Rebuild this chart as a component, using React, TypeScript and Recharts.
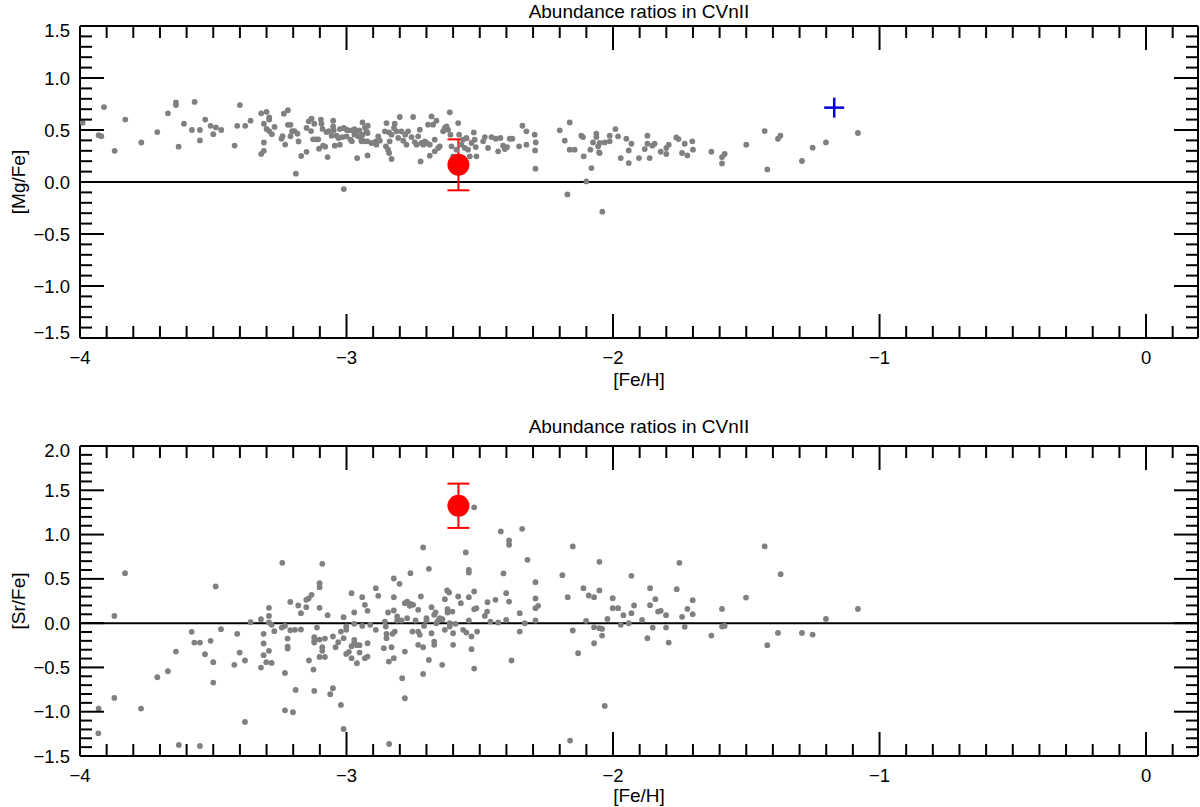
import React from 'react';
import { ScatterChart, Scatter, XAxis, YAxis, ReferenceLine, ErrorBar } from 'recharts';

const FONT = "'Liberation Sans', Arial, Helvetica, sans-serif";
const TITLE = 'Abundance ratios in CVnII';
const X_LABEL = '[Fe/H]';
const MG_LABEL = '[Mg/Fe]';
const SR_LABEL = '[Sr/Fe]';

const X_DOMAIN: [number, number] = [-4, 0.195];
const MG_DOMAIN: [number, number] = [-1.5, 1.5];
const SR_DOMAIN: [number, number] = [-1.5, 2.0];

// tick positions (minor every 0.1, labelled majors)
const X_TICKS = Array.from({ length: 42 }, (_, i) => (i - 40) / 10);
const MG_TICKS = Array.from({ length: 31 }, (_, i) => (i - 15) / 10);
const SR_TICKS = Array.from({ length: 36 }, (_, i) => (i - 15) / 10);
const X_MAJOR_LABELS: Record<string, string> = { '-4': '−4', '-3': '−3', '-2': '−2', '-1': '−1', '0': '0' };

// [Fe/H], [Mg/Fe] of comparison stars
const MG_STARS: [number, number][] = [
  [-3.99, 0.57], [-3.91, 0.72], [-3.93, 0.45], [-3.92, 0.44], [-3.87, 0.30], [-3.83, 0.60], [-3.77, 0.38],
  [-3.71, 0.48], [-3.67, 0.66], [-3.64, 0.765], [-3.64, 0.74], [-3.63, 0.34], [-3.61, 0.56], [-3.58, 0.50],
  [-3.57, 0.77], [-3.55, 0.50], [-3.55, 0.40], [-3.53, 0.60], [-3.51, 0.54], [-3.49, 0.525], [-3.50, 0.46],
  [-3.47, 0.50], [-3.42, 0.35], [-3.40, 0.74], [-3.41, 0.54], [-3.38, 0.54], [-3.36, 0.59], [-3.32, 0.66],
  [-3.30, 0.675], [-3.31, 0.56], [-3.29, 0.62], [-3.29, 0.60], [-3.32, 0.27], [-3.31, 0.30], [-3.31, 0.38],
  [-3.30, 0.51], [-3.29, 0.49], [-3.28, 0.46], [-3.27, 0.53], [-3.244, 0.416], [-3.24, 0.44], [-3.23, 0.36],
  [-3.235, 0.657], [-3.22, 0.69], [-3.22, 0.55], [-3.21, 0.55], [-3.21, 0.44], [-3.204, 0.49], [-3.195, 0.49],
  [-3.184, 0.465], [-3.18, 0.39], [-3.19, 0.08], [-3.17, 0.25], [-3.15, 0.29], [-3.15, 0.52], [-3.142, 0.583],
  [-3.131, 0.61], [-3.133, 0.49], [-3.125, 0.41], [-3.115, 0.41], [-3.121, 0.56], [-3.106, 0.41], [-3.096, 0.60],
  [-3.094, 0.56], [-3.09, 0.51], [-3.103, 0.32], [-3.088, 0.35], [-3.08, 0.34], [-3.071, 0.24], [-3.075, 0.48],
  [-3.066, 0.49],
  [-3.05, 0.59], [-3.05, 0.535], [-3.056, 0.445], [-3.048, 0.497], [-3.025, 0.509], [-3.01, 0.519], [-3.0, 0.503],
  [-2.994, 0.497], [-2.98, 0.497], [-2.97, 0.509], [-2.96, 0.487], [-2.952, 0.497], [-3.037, 0.445], [-3.03, 0.423],
  [-3.015, 0.432], [-3.0, 0.439], [-2.985, 0.407], [-2.97, 0.455], [-2.956, 0.439], [-3.044, 0.349], [-3.025, 0.359],
  [-2.98, 0.391], [-2.96, 0.23], [-3.01, -0.068],
  [-2.94, 0.573], [-2.931, 0.525], [-2.925, 0.487], [-2.92, 0.541], [-2.921, 0.471], [-2.922, 0.391], [-2.921, 0.256],
  [-2.94, 0.455], [-2.944, 0.391], [-2.931, 0.391], [-2.944, 0.407], [-2.906, 0.375], [-2.89, 0.391], [-2.881, 0.439],
  [-2.888, 0.359], [-2.875, 0.397], [-2.856, 0.487], [-2.85, 0.567], [-2.84, 0.477], [-2.831, 0.455], [-2.822, 0.519],
  [-2.819, 0.561], [-2.8125, 0.487], [-2.806, 0.423], [-2.8, 0.625], [-2.794, 0.487], [-2.787, 0.397], [-2.78, 0.455],
  [-2.775, 0.359], [-2.769, 0.487], [-2.756, 0.432], [-2.75, 0.625], [-2.744, 0.384], [-2.737, 0.359], [-2.731, 0.439],
  [-2.725, 0.503], [-2.719, 0.375], [-2.712, 0.359], [-2.706, 0.391], [-2.7, 0.375], [-2.694, 0.551], [-2.6875, 0.359],
  [-2.681, 0.631], [-2.675, 0.551], [-2.6625, 0.59], [-2.669, 0.295], [-2.669, 0.407], [-2.656, 0.327], [-2.65, 0.343],
  [-2.6375, 0.487], [-2.631, 0.519], [-2.625, 0.535], [-2.619, 0.503], [-2.6125, 0.67], [-2.61, 0.455], [-2.606, 0.343],
  [-2.6, 0.247], [-2.5875, 0.311], [-2.581, 0.567], [-2.5775, 0.455], [-2.569, 0.359], [-2.5625, 0.407], [-2.556, 0.327],
  [-2.55, 0.423], [-2.544, 0.311], [-2.5375, 0.247], [-2.531, 0.375], [-2.5225, 0.477], [-2.519, 0.407], [-2.5125, 0.247],
  [-2.515, 0.336], [-2.84, 0.279], [-2.831, 0.221], [-2.852, 0.343], [-2.844, 0.311], [-2.838, 0.391], [-2.722, 0.198],
  [-2.6875, 0.253], [-2.4875, 0.391], [-2.481, 0.432], [-2.469, 0.327], [-2.456, 0.432], [-2.44, 0.416], [-2.431, 0.295],
  [-2.4225, 0.423], [-2.4125, 0.349], [-2.406, 0.317], [-2.3975, 0.336], [-2.3875, 0.416], [-2.3775, 0.416],
  [-2.3525, 0.343], [-2.34, 0.541], [-2.325, 0.487], [-2.325, 0.359], [-2.294, 0.455], [-2.29, 0.381], [-2.2925, 0.304],
  [-2.291, 0.128], [-2.2, 0.497], [-2.181, 0.397], [-2.1625, 0.573], [-2.1625, 0.311], [-2.144, 0.311], [-2.171, -0.119],
  [-2.119, 0.445], [-2.1125, 0.432], [-2.11, 0.247], [-2.1, 0.006], [-2.081, 0.134], [-2.085, 0.311], [-2.075, 0.381],
  [-2.0625, 0.432], [-2.0625, 0.464], [-2.056, 0.343], [-2.0525, 0.285], [-2.04, -0.285],
  [-2.05, 0.375], [-2.031, 0.381], [-2.0125, 0.391], [-2.0125, 0.445], [-2.05, 0.279], [-1.991, 0.509], [-1.981, 0.439],
  [-1.971, 0.23], [-1.95, 0.416], [-1.941, 0.304], [-1.941, 0.182], [-1.931, 0.368], [-1.9025, 0.23], [-1.881, 0.317],
  [-1.871, 0.445], [-1.871, 0.368], [-1.8625, 0.23], [-1.8525, 0.349], [-1.844, 0.368], [-1.821, 0.291], [-1.8, 0.327],
  [-1.8, 0.269], [-1.791, 0.359], [-1.7625, 0.429], [-1.754, 0.413], [-1.741, 0.279], [-1.731, 0.368], [-1.721, 0.256],
  [-1.7025, 0.391], [-1.7, 0.311], [-1.631, 0.291], [-1.591, 0.179], [-1.591, 0.24], [-1.581, 0.269], [-1.5, 0.359],
  [-1.431, 0.49], [-1.421, 0.121], [-1.381, 0.416], [-1.372, 0.445], [-1.291, 0.202], [-1.251, 0.33], [-1.201, 0.381],
  [-1.081, 0.471],
];

// [Fe/H], [Sr/Fe] of comparison stars
const SR_STARS: [number, number][] = [
  [-3.831, 0.564], [-3.871, 0.082], [-3.491, 0.414], [-3.93, -0.965], [-3.871, -0.844], [-3.931, -1.244],
  [-3.771, -0.965], [-3.71, -0.611], [-3.67, -0.543], [-3.64, -0.321], [-3.629, -1.375], [-3.55, -1.387],
  [-3.581, -0.098], [-3.571, -0.219], [-3.55, -0.219], [-3.531, -0.351], [-3.51, -0.2], [-3.5, -0.441], [-3.5, -0.671],
  [-3.471, -0.068], [-3.421, -0.471], [-3.41, -0.121], [-3.401, -0.332], [-3.381, -0.422], [-3.381, -1.115],
  [-3.36, 0.011], [-3.321, 0.045], [-3.321, -0.502], [-3.311, -0.121], [-3.311, -0.23], [-3.311, -0.362],
  [-3.291, 0.173], [-3.291, 0.082], [-3.291, 0.007], [-3.291, -0.313], [-3.301, -0.441], [-3.281, -0.449],
  [-3.281, -0.019], [-3.271, -0.091], [-3.241, 0.681], [-3.243, -0.05], [-3.231, -0.031], [-3.231, -0.562],
  [-3.231, -0.984], [-3.221, -0.174], [-3.221, -0.264], [-3.221, -0.287], [-3.211, 0.24], [-3.211, -0.08],
  [-3.201, -1.006], [-3.193, -0.076], [-3.191, -0.754], [-3.181, 0.199], [-3.171, 0.112], [-3.171, -0.072],
  [-3.151, 0.18], [-3.151, 0.263], [-3.142, 0.278], [-3.131, 0.32], [-3.141, -0.422], [-3.121, -0.196],
  [-3.121, -0.219], [-3.121, -0.159], [-3.124, -0.524], [-3.121, -0.765], [-3.111, -0.05], [-3.101, 0.173],
  [-3.101, 0.451], [-3.101, 0.406], [-3.101, -0.185], [-3.101, -0.381], [-3.091, 0.67], [-3.091, -0.272],
  [-3.091, -0.313], [-3.081, -0.174], [-3.081, -0.381], [-3.071, 0.09], [-3.061, -0.803], [-3.051, -0.735],
  [-3.051, -0.151], [-3.041, -0.272], [-3.031, -0.215], [-3.021, -0.923], [-3.021, -0.095], [-3.011, 0.067],
  [-3.011, -0.17], [-3.011, -1.195], [-3.001, -0.076], [-3.001, -0.038], [-3.001, -0.347], [-2.991, -0.324],
  [-2.981, 0.338], [-2.981, -0.26], [-2.981, -0.396], [-2.971, 0.12], [-2.971, -0.189], [-2.971, -0.227],
  [-2.971, -0.008], [-2.961, -0.249], [-2.961, -0.453], [-2.951, -0.249], [-2.951, -0.332], [-2.941, 0.293],
  [-2.941, -0.031], [-2.931, 0.207], [-2.931, -0.396], [-2.921, 0.139], [-2.921, -0.227], [-2.921, -0.377],
  [-2.911, -0.019],
  [-2.89, 0.395], [-2.881, 0.308], [-2.89, -0.076], [-2.86, -0.283], [-2.856, 0.018], [-2.8525, -0.038],
  [-2.85, -0.121], [-2.85, -0.17], [-2.844, 0.12], [-2.841, -0.434], [-2.831, -0.272], [-2.8275, -0.121],
  [-2.8225, 0.504], [-2.8225, 0.293], [-2.8225, 0.143], [-2.8225, -0.396], [-2.819, -0.095], [-2.81, 0.075],
  [-2.81, 0.03], [-2.801, 0.444], [-2.794, 0.03], [-2.791, -0.622], [-2.781, -0.321], [-2.781, 0.225],
  [-2.781, -0.848], [-2.7725, 0.244], [-2.7725, 0.056], [-2.7625, 0.195], [-2.76, 0.218], [-2.76, 0.564],
  [-2.7525, -0.095], [-2.75, 0.207], [-2.741, 0.03], [-2.731, 0.15], [-2.731, -0.095], [-2.731, -0.245],
  [-2.725, -0.132], [-2.721, 0.301], [-2.7125, 0.854], [-2.7125, -0.272], [-2.7125, -0.573], [-2.709, -0.031],
  [-2.7, 0.056], [-2.7, 0.03], [-2.691, 0.613], [-2.691, -0.415], [-2.681, 0.18], [-2.681, -0.114],
  [-2.671, -0.208], [-2.671, -0.245], [-2.671, 0.094], [-2.666, 0.12], [-2.6625, -0.001], [-2.656, 0.03],
  [-2.65, 0.056], [-2.641, -0.471], [-2.64, 0.045], [-2.631, -0.076], [-2.631, 0.271], [-2.6225, 0.369],
  [-2.621, 0.158], [-2.621, 0.12], [-2.615, 0.346], [-2.6125, -0.001], [-2.6125, -0.038], [-2.6025, 0.131],
  [-2.6, -0.114], [-2.6, -0.245], [-2.591, -0.008], [-2.581, 0.301], [-2.571, 0.225], [-2.5625, -0.076],
  [-2.5525, 0.798], [-2.55, -0.106], [-2.541, 0.602], [-2.541, 0.572], [-2.541, 0.293], [-2.541, 0.03],
  [-2.531, -0.151], [-2.531, -0.294], [-2.521, -0.513], [-2.521, 0.357], [-2.521, 0.158], [-2.5125, 0.169],
  [-2.51, -0.095], [-2.481, 0.082], [-2.4725, 0.131], [-2.471, 0.237], [-2.46, 0.018], [-2.441, 0.263],
  [-2.431, 0.007], [-2.421, 1.035], [-2.411, 0.561], [-2.401, 0.338], [-2.401, 0.037], [-2.39, 0.244],
  [-2.39, 0.934], [-2.39, 0.885], [-2.381, -0.422], [-2.35, 0.112], [-2.35, -0.095], [-2.341, 1.065],
  [-2.331, -0.001], [-2.321, 0.715], [-2.291, 0.463], [-2.291, 0.278], [-2.291, 0.169], [-2.281, 0.195],
  [-2.291, 0.03], [-2.19, 0.542], [-2.17, 0.293], [-2.151, 0.866], [-2.151, -0.083], [-2.131, -0.34],
  [-2.111, 0.395], [-2.101, 0.026], [-2.091, 0.312], [-2.071, 0.293], [-2.071, -0.046], [-2.071, -0.227],
  [-2.051, 0.692], [-2.051, 0.369], [-2.051, -0.057], [-2.041, -0.065], [-2.041, -0.14], [-2.031, -0.935],
  [-2.021, 0.048], [-2.001, 0.282], [-2.001, 0.169], [-1.981, 0.169], [-1.971, -0.019], [-1.961, 0.09],
  [-1.941, -0.001], [-1.931, 0.112], [-1.931, 0.534], [-1.921, 0.199], [-1.891, 0.037], [-1.871, -0.17],
  [-1.861, 0.395], [-1.861, 0.203], [-1.851, -0.05], [-1.841, 0.271], [-1.831, 0.131], [-1.821, 0.139],
  [-1.801, 0.09], [-1.801, -0.05], [-1.791, -0.219], [-2.84, -1.364], [-2.161, -1.326], [-2.521, 1.306],
  [-1.751, 0.681], [-1.761, 0.384], [-1.701, 0.259], [-1.721, 0.161], [-1.741, 0.071], [-1.701, 0.101],
  [-1.731, -0.042], [-1.631, -0.14], [-1.591, 0.161], [-1.591, -0.038], [-1.581, -0.031], [-1.501, 0.289],
  [-1.431, 0.866], [-1.371, 0.553], [-1.421, -0.249], [-1.381, -0.11], [-1.291, -0.11], [-1.251, -0.129],
  [-1.201, 0.048], [-1.081, 0.161],
];

// CVnII measurement with symmetric error
const CVN_MG = [{ x: -2.58, y: 0.165, err: 0.245 }];
const CVN_SR = [{ x: -2.58, y: 1.325, err: 0.25 }];
// blue reference cross in the Mg panel
const REF_MG = [{ x: -1.17, y: 0.715 }];

const toPts = (arr: [number, number][]) => arr.map(([x, y]) => ({ x, y }));

const isXMajor = (v: number) => Math.abs(v - Math.round(v)) < 1e-6;
const isYMajor = (v: number) => Math.abs(v * 2 - Math.round(v * 2)) < 1e-6;
const fmtY = (v: number) => v.toFixed(1).replace('-', '−');

const BIG = 24;
const SMALL = 12;
const TICK_FS = 18.5;

const makeXTick = (side: 'bottom' | 'top') => (p: any) => {
  const { x, y, payload } = p;
  const v = payload.value;
  const major = isXMajor(v);
  const len = major ? BIG : SMALL;
  const dir = side === 'bottom' ? -1 : 1;
  const key = String(Math.round(v));
  return (
    <g>
      <line x1={x} x2={x} y1={y} y2={y + dir * len} stroke="#000" strokeWidth={2} />
      {side === 'bottom' && major ? (
        <text x={x} y={y + 19} textAnchor="middle" dominantBaseline="central" fontSize={TICK_FS} fontFamily={FONT} fill="#000">
          {X_MAJOR_LABELS[key]}
        </text>
      ) : null}
    </g>
  );
};

const makeYTick = (side: 'left' | 'right', shifts: Record<string, number>) => (p: any) => {
  const { x, y, payload } = p;
  const v = payload.value;
  const major = isYMajor(v);
  const len = major ? BIG : SMALL;
  const dir = side === 'left' ? 1 : -1;
  const lab = fmtY(v);
  return (
    <g>
      <line x1={x} x2={x + dir * len} y1={y} y2={y} stroke="#000" strokeWidth={2} />
      {side === 'left' && major ? (
        <text x={x - 10} y={y + (shifts[lab] || 0)} textAnchor="end" dominantBaseline="central" fontSize={TICK_FS} fontFamily={FONT} fill="#000">
          {lab}
        </text>
      ) : null}
    </g>
  );
};

const GrayDot = (p: any) => <circle cx={p.cx} cy={p.cy} r={2.9} fill="#808080" />;
const RedDot = (p: any) => <circle cx={p.cx} cy={p.cy} r={11} fill="#ff0000" />;
const BlueCross = (p: any) => (
  <g>
    <line x1={p.cx - 10} x2={p.cx + 10} y1={p.cy} y2={p.cy} stroke="#0000d8" strokeWidth={2.5} />
    <line x1={p.cx} x2={p.cx} y1={p.cy - 10} y2={p.cy + 10} stroke="#0000d8" strokeWidth={2.5} />
  </g>
);

type PanelProps = {
  height: number;
  plotTop: number;
  plotBottom: number;
  yDomain: [number, number];
  yTicks: number[];
  stars: [number, number][];
  cvn: { x: number; y: number; err: number }[];
  cross?: { x: number; y: number }[];
  shifts: Record<string, number>;
};

function Panel({ height, plotTop, plotBottom, yDomain, yTicks, stars, cvn, cross, shifts }: PanelProps) {
  const axisLine = { stroke: '#000', strokeWidth: 2 };
  return (
    <ScatterChart width={1200} height={height} margin={{ top: 0, right: 0, bottom: 0, left: 0 }}>
      <XAxis xAxisId="b" type="number" dataKey="x" orientation="bottom" domain={X_DOMAIN} ticks={X_TICKS}
        interval={0} height={height - plotBottom} tickSize={0} tickMargin={0} tickLine={false}
        axisLine={axisLine} tick={makeXTick('bottom')} allowDataOverflow />
      <XAxis xAxisId="t" type="number" dataKey="x" orientation="top" domain={X_DOMAIN} ticks={X_TICKS}
        interval={0} height={plotTop} tickSize={0} tickMargin={0} tickLine={false}
        axisLine={axisLine} tick={makeXTick('top')} allowDataOverflow />
      <YAxis yAxisId="l" type="number" dataKey="y" orientation="left" domain={yDomain} ticks={yTicks}
        interval={0} width={80} tickSize={0} tickMargin={0} tickLine={false}
        axisLine={axisLine} tick={makeYTick('left', shifts)} allowDataOverflow />
      <YAxis yAxisId="r" type="number" dataKey="y" orientation="right" domain={yDomain} ticks={yTicks}
        interval={0} width={2} tickSize={0} tickMargin={0} tickLine={false}
        axisLine={axisLine} tick={makeYTick('right', shifts)} allowDataOverflow />
      <ReferenceLine xAxisId="b" yAxisId="l" y={0} stroke="#000" strokeWidth={2} />
      <Scatter xAxisId="b" yAxisId="l" data={toPts(stars)} shape={GrayDot} isAnimationActive={false} />
      {cross ? <Scatter xAxisId="b" yAxisId="l" data={cross} shape={BlueCross} isAnimationActive={false} /> : null}
      <Scatter xAxisId="b" yAxisId="l" data={cvn} shape={RedDot} isAnimationActive={false}>
        <ErrorBar dataKey="err" direction="y" width={11} stroke="#ff0000" strokeWidth={2} isAnimationActive={false} />
      </Scatter>
    </ScatterChart>
  );
}

const textStyle: React.CSSProperties = {
  position: 'absolute',
  fontFamily: FONT,
  color: '#000',
  whiteSpace: 'nowrap',
  lineHeight: 1.1,
};

export default function App() {
  return (
    <div style={{ position: 'absolute', left: 0, top: 0, width: 1200, height: 807, background: '#fff', overflow: 'hidden' }}>
      <div style={{ position: 'absolute', left: 0, top: 0 }}>
        <Panel height={400} plotTop={26} plotBottom={338} yDomain={MG_DOMAIN} yTicks={MG_TICKS}
          stars={MG_STARS} cvn={CVN_MG} cross={REF_MG} shifts={{ '1.5': 4, '−1.5': -6 }} />
      </div>
      <div style={{ position: 'absolute', left: 0, top: 400 }}>
        <Panel height={407} plotTop={46} plotBottom={356} yDomain={SR_DOMAIN} yTicks={SR_TICKS}
          stars={SR_STARS} cvn={CVN_SR} shifts={{ '2.0': 4 }} />
      </div>
      <div style={{ ...textStyle, left: 639, top: 11.5, fontSize: 19, transform: 'translate(-50%, -50%)' }}>{TITLE}</div>
      <div style={{ ...textStyle, left: 639, top: 380, fontSize: 19, transform: 'translate(-50%, -50%)' }}>{X_LABEL}</div>
      <div style={{ ...textStyle, left: 19, top: 182, fontSize: 19, transform: 'translate(-50%, -50%) rotate(-90deg)' }}>{MG_LABEL}</div>
      <div style={{ ...textStyle, left: 639, top: 427, fontSize: 19, transform: 'translate(-50%, -50%)' }}>{TITLE}</div>
      <div style={{ ...textStyle, left: 639, top: 796, fontSize: 19, transform: 'translate(-50%, -50%)' }}>{X_LABEL}</div>
      <div style={{ ...textStyle, left: 19, top: 601, fontSize: 19, transform: 'translate(-50%, -50%) rotate(-90deg)' }}>{SR_LABEL}</div>
    </div>
  );
}
